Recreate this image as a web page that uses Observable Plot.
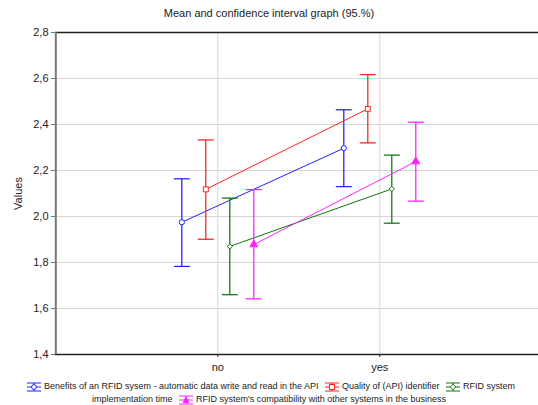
<!DOCTYPE html>
<html><head><meta charset="utf-8">
<script src="https://cdn.jsdelivr.net/npm/d3@7"></script>
<script src="https://cdn.jsdelivr.net/npm/@observablehq/plot@0.6"></script>
<style>
body{margin:0;background:#fff;font-family:"Liberation Sans",Arial,sans-serif;color:#222;}
#title{height:26px;line-height:27px;text-align:center;font-size:11px;}
#chart svg{display:block;}
#legend{width:538px;text-align:center;font-size:9px;line-height:13px;padding-top:4px;}
#legend svg{vertical-align:middle;margin:0 2px 0 3px;}
</style></head><body>
<div id="title">Mean and confidence interval graph (95.%)</div>
<div id="chart"></div>
<div id="legend"></div>
<script>
const categories = ["no", "yes"];
const seriesNames = [
  "Benefits of an RFID sysem - automatic data write and read in the API",
  "Quality of (API) identifier",
  "RFID system implementation time",
  "RFID system's compatibility with other systems in the business"
];
const means = [[1.975, 2.297], [2.118, 2.468], [1.870, 2.120], [1.878, 2.239]];
const lower = [[1.783, 2.130], [1.901, 2.320], [1.660, 1.971], [1.642, 2.067]];
const upper = [[2.164, 2.464], [2.333, 2.617], [2.080, 2.267], [2.117, 2.410]];
const yTicks = [1.4, 1.6, 1.8, 2.0, 2.2, 2.4, 2.6, 2.8];
const colors = ["#2020ff", "#ff2020", "#0a780a", "#ff20ff"];
const symbols = ["circle", "square", "diamond2", "triangle"];
const fills = ["white", "white", "white", "#ff20ff"];
const radii = [2.6, 2.8, 2.4, 2.9];

const cap = {draw(ctx, size) { const r = Math.sqrt(size / Math.PI); ctx.moveTo(-r, 0); ctx.lineTo(r, 0); }};

const marks = [
  Plot.gridY(yTicks, {stroke: "#d6d6d6", strokeOpacity: 1}),
  Plot.gridX([1, 2], {stroke: "#d6d6d6", strokeOpacity: 1}),
  Plot.ruleY([2.8], {stroke: "#222", strokeWidth: 1.5}),
  Plot.ruleY([1.4], {stroke: "#222", strokeWidth: 1.5}),
  Plot.ruleX([0], {stroke: "#777", strokeWidth: 2}),
  Plot.axisY({ticks: yTicks, tickFormat: d => d.toFixed(1).replace(".", ","), tickSize: 4, tickPadding: 3, label: null, stroke: "#777"}),
  Plot.axisX({ticks: [1, 2], tickFormat: d => categories[d - 1], tickSize: 3, tickPadding: 6, label: null}),
  Plot.text(["Values"], {frameAnchor: "left", rotate: -90, dx: -37, textAnchor: "middle", fontSize: 11})
];

seriesNames.forEach((name, si) => {
  const data = categories.map((c, ci) => ({cx: ci + 1, m: means[si][ci], lo: lower[si][ci], hi: upper[si][ci]}));
  const dx = (si - 1.5) * 24;
  const col = colors[si];
  marks.push(
    Plot.link(data, {x1: "cx", x2: "cx", y1: "lo", y2: "hi", stroke: col, strokeWidth: 1.25, dx}),
    Plot.dot(data, {x: "cx", y: "lo", symbol: cap, r: 8, stroke: col, strokeWidth: 1.25, fill: "none", dx}),
    Plot.dot(data, {x: "cx", y: "hi", symbol: cap, r: 8, stroke: col, strokeWidth: 1.25, fill: "none", dx}),
    Plot.line(data, {x: "cx", y: "m", stroke: col, strokeWidth: 1, dx}),
    Plot.dot(data, {x: "cx", y: "m", symbol: symbols[si], r: radii[si], stroke: col, strokeWidth: 1, fill: fills[si], dx})
  );
});

const chart = Plot.plot({
  width: 538,
  height: 350,
  marginTop: 6,
  marginBottom: 22,
  marginLeft: 55,
  marginRight: 0,
  style: {fontFamily: "Liberation Sans, Arial, sans-serif", fontSize: "11px", color: "#222", background: "#fff"},
  x: {domain: [0, 3], range: [55.3, 541.3]},
  y: {domain: [1.4, 2.8]},
  marks
});
document.getElementById("chart").append(chart);

function legendIcon(si) {
  const c = colors[si];
  let m;
  if (si === 0) m = `<circle cx="8" cy="5" r="2.4" fill="white" stroke="${c}"/>`;
  else if (si === 1) m = `<rect x="5.5" y="2.5" width="5" height="5" fill="white" stroke="${c}"/>`;
  else if (si === 2) m = `<path d="M8,2.2 L10.8,5 L8,7.8 L5.2,5 Z" fill="white" stroke="${c}"/>`;
  else m = `<path d="M8,2 L10.8,7.5 L5.2,7.5 Z" fill="${c}" stroke="${c}"/>`;
  return `<svg width="16" height="10" viewBox="0 0 16 10"><g stroke="${c}" stroke-width="1"><line x1="1" y1="1" x2="15" y2="1"/><line x1="1" y1="5" x2="15" y2="5"/><line x1="1" y1="9" x2="15" y2="9"/><line x1="8" y1="1" x2="8" y2="9"/></g>${m}</svg>`;
}
const lg = document.getElementById("legend");
lg.innerHTML = legendIcon(0) + seriesNames[0] + " " + legendIcon(1) + seriesNames[1] + " " + legendIcon(2) + "RFID system<br>implementation time " + legendIcon(3) + seriesNames[3];
</script>
</body></html>
